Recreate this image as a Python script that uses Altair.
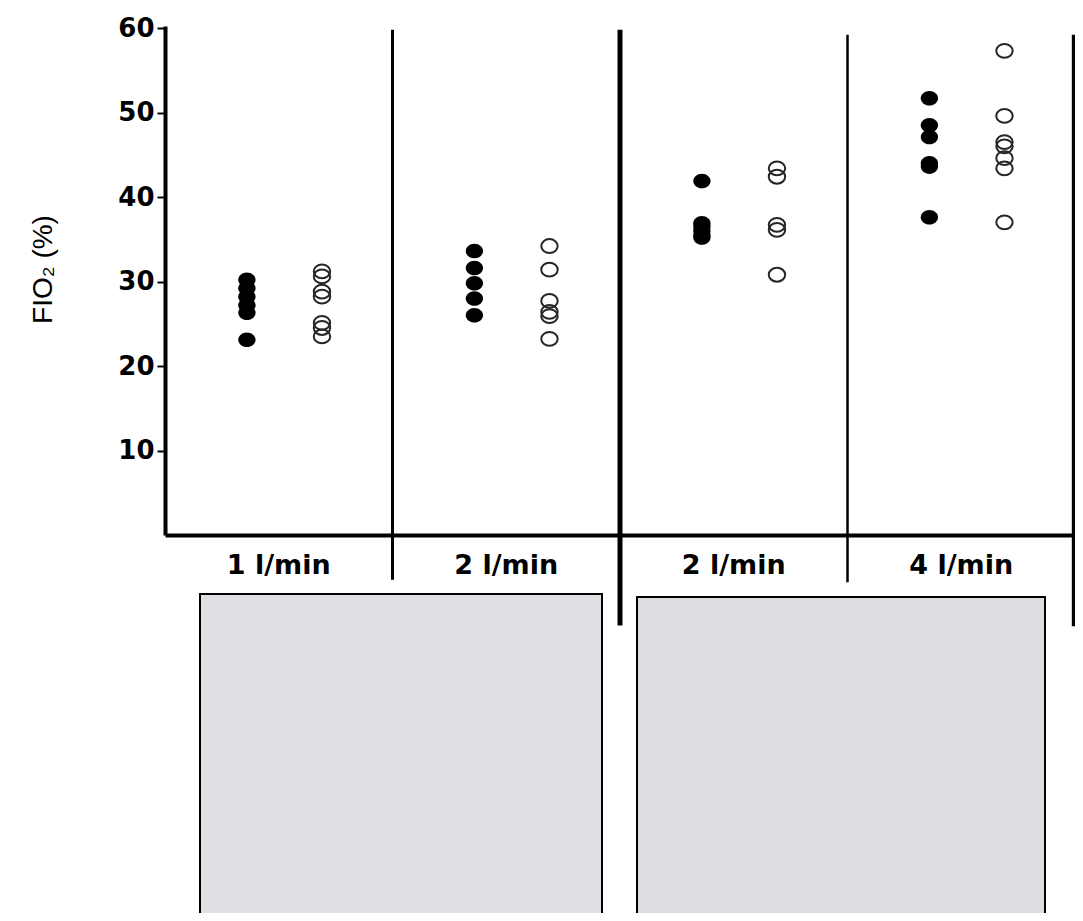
import pandas as pd
import altair as alt

flows = ["1 l/min", "2 l/min", "2 l/min", "4 l/min"]

# FIO2 (%), one list per flow panel
filled_vals = [
    [30.2, 29.2, 28.2, 27.2, 26.3, 23.1],
    [33.6, 31.6, 29.8, 28.0, 26.0],
    [41.9, 36.9, 36.5, 36.0, 35.5, 35.2],
    [51.7, 48.5, 47.1, 44.0, 43.6, 37.6],
]
open_vals = [
    [31.2, 30.6, 28.8, 28.2, 25.1, 24.5, 23.5],
    [34.2, 31.4, 27.7, 26.4, 25.9, 23.2],
    [43.4, 42.4, 36.7, 36.1, 30.8],
    [57.3, 49.6, 46.5, 46.0, 44.6, 43.4, 37.0],
]
y_ticks = [10, 20, 30, 40, 50, 60]

# where each group sits inside its panel
group_offset = {"filled": 0.36, "open": 0.69}

rows = []
for i, flow in enumerate(flows):
    for grp, vals in (("filled", filled_vals[i]), ("open", open_vals[i])):
        for v in vals:
            rows.append({"panel": i, "flow": flow, "group": grp,
                         "xpos": i + group_offset[grp], "fio2": v})
points = pd.DataFrame(rows)

labels = pd.DataFrame({"flow": flows, "xpos": [i + 0.5 for i in range(len(flows))]})

# panel separators (top / bottom ends in axis units, widths in px)
seps = pd.DataFrame({
    "xpos": [1, 2, 3, 3.997],
    "fio2": [59.8, 59.8, 59.2, 59.2],
    "fio2_end": [-5.3, -10.7, -5.6, -10.8],
    "w": [3, 5, 2.5, 5],
})

x_enc = alt.X("xpos:Q", scale=alt.Scale(domain=[0, 4], nice=False, zero=False),
              axis=alt.Axis(labels=False, ticks=False, title=None, grid=False,
                            domainWidth=4, domainColor="black"))
y_enc = alt.Y("fio2:Q", scale=alt.Scale(domain=[0, 60.24], nice=False, zero=False),
              axis=alt.Axis(values=y_ticks, title="FIO₂ (%)", grid=False,
                            domainWidth=4, domainColor="black",
                            tickSize=8, tickWidth=2, tickColor="black",
                            labelFont="DejaVu Sans", labelFontWeight="bold",
                            labelFontSize=26, labelColor="black", labelPadding=3,
                            titleFont="Liberation Sans", titleFontSize=28,
                            titleFontWeight="normal", titleColor="black",
                            titleAngle=270, titleX=-108, titleY=243,
                            titleAlign="center", titleBaseline="bottom"))

ellipse = "M-1,0A1,0.84,0,1,1,1,0A1,0.84,0,1,1,-1,0Z"

dots = alt.Chart(points).transform_filter(alt.datum.group == "filled").mark_point(
    shape=ellipse, filled=True, size=300, color="black", opacity=1
).encode(x=x_enc, y=y_enc)

rings = alt.Chart(points).transform_filter(alt.datum.group == "open").mark_point(
    shape=ellipse, filled=False, size=270, color="#262626", strokeWidth=2, opacity=1
).encode(x=x_enc, y=y_enc)

sep_rules = alt.Chart(seps).mark_rule(color="black").encode(
    x=x_enc, y=y_enc, y2="fio2_end:Q",
    strokeWidth=alt.StrokeWidth("w:Q", scale=None),
)

flow_text = alt.Chart(labels).mark_text(
    font="DejaVu Sans", fontSize=27, fontWeight="bold", color="black",
    baseline="middle", align="center"
).encode(x=x_enc, y=alt.value(540), text="flow:N")

# the two device photographs, shown as framed placeholders
photo_left = alt.Chart(pd.DataFrame({"item": ["nasal cannula"]})).mark_rect(
    fill="#dfe0e3", stroke="black", strokeWidth=2
).encode(x=alt.value(35), x2=alt.value(437), y=alt.value(568), y2=alt.value(890))

photo_right = alt.Chart(pd.DataFrame({"item": ["oxygen mask"]})).mark_rect(
    fill="#dcdde0", stroke="black", strokeWidth=2
).encode(x=alt.value(472), x2=alt.value(880), y=alt.value(571), y2=alt.value(890))

chart = alt.layer(photo_left, photo_right, sep_rules, dots, rings, flow_text).properties(
    width=910, height=509,
    autosize=alt.AutoSizeParams(type="none"),
    padding={"left": 157, "top": 18, "right": 0, "bottom": 378},
    background="white",
).configure_view(stroke=None)

chart.save("out.html", embed_options={"renderer": "svg", "actions": False})
